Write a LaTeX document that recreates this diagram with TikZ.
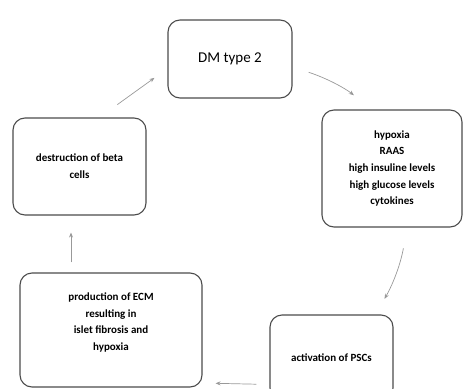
\documentclass[tikz,border=0pt]{standalone}
\usepackage{fontspec}
\setmainfont{Carlito}
\usetikzlibrary{arrows.meta}
\tikzset{
  cycbox/.style = {draw=black!70, line width=1.1pt, rounded corners=12pt,
    inner sep=0pt, align=center, font=\fontsize{11}{16.7}\selectfont\bfseries},
  cycarrow/.style = {draw=black!40, line width=0.7pt,
    -{Stealth[length=5pt,width=4pt]}}
}
\begin{document}
\begin{tikzpicture}[x=1pt,y=-1pt]
  \useasboundingbox (0,0) rectangle (465,388);
  % the five steps of the cycle
  \node[cycbox, minimum width=124pt, minimum height=78pt,
        font=\fontsize{15}{18}\selectfont] (dm) at (230,59) {DM type 2};
  \node[cycbox, minimum width=140pt, minimum height=117pt] (hyp) at (392,168.5)
        {hypoxia\\ RAAS\\ high insuline levels\\ high glucose levels\\ cytokines};
  \node[cycbox, minimum width=123pt, minimum height=85pt] (act) at (331.5,357.5)
        {activation of PSCs};
  \node[cycbox, minimum width=182pt, minimum height=114pt, text depth=17pt]
        (prod) at (111,330)
        {production of ECM\\ resulting in\\ islet fibrosis and\\ hypoxia};
  \node[cycbox, minimum width=133pt, minimum height=97pt] (dest) at (79.5,166.5)
        {destruction of beta\\ cells};
  % arrows between them
  \draw[cycarrow, shorten <=17pt, shorten >=23pt]
        ([yshift=-8pt]dm.east) to[bend left=10] ([xshift=-20pt]hyp.north);
  \draw[cycarrow, shorten <=21pt, shorten >=18pt]
        ([xshift=15pt]hyp.south) to[bend left=10] ([xshift=44pt]act.north);
  \draw[cycarrow, shorten <=13pt, shorten >=13pt]
        ([yshift=-27pt]act.west) -- ([yshift=-53pt]prod.east);
  \draw[cycarrow, shorten <=10pt, shorten >=17pt]
        ([xshift=-40pt]prod.north) -- ([xshift=-40pt]prod.north |- dest.south);
  \draw[cycarrow, shorten <=22pt, shorten >=16pt]
        ([xshift=20pt]dest.north) -- ([yshift=-9.5pt]dm.west);
\end{tikzpicture}
\end{document}
